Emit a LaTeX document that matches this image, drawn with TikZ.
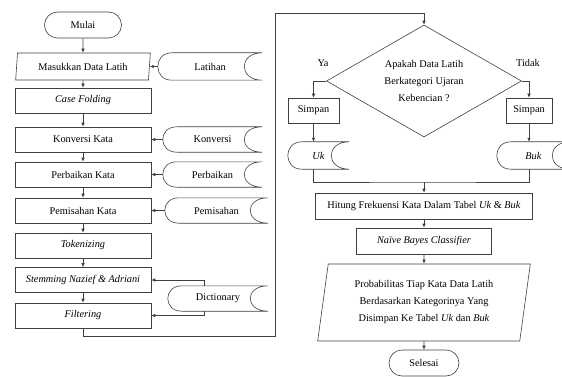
\documentclass[tikz,border=0pt]{standalone}
\usepackage{fontspec}
\setmainfont{Liberation Serif}
\usetikzlibrary{
  positioning,
  arrows.meta,
  shapes.geometric,
  shapes.misc
}
\definecolor{fcLine}{HTML}{404040}

\begin{document}
\begin{tikzpicture}[
  x=1pt, y=-1pt,
  every node/.style={font=\fontsize{10.3}{17}\selectfont, align=center, inner sep=0pt},
  link/.style={draw=fcLine, line width=0.6pt},
  proc/.style={
    rectangle, link,
    minimum width=136pt, minimum height=25pt
  },
  io/.style={
    trapezium, trapezium left angle=80, trapezium right angle=100,
    trapezium stretches=true,
    link, minimum width=136pt, minimum height=27pt
  },
  term/.style={
    rounded rectangle, link,
    minimum width=77pt, minimum height=26pt
  },
  decision/.style={
    diamond, link, aspect=1.74,
    minimum width=195pt, minimum height=112pt
  },
  datastore/.style={rectangle, minimum height=25pt},
  arrow/.style={link, -{Latex[length=4pt, width=3.5pt]}}
]
 \useasboundingbox (0,0) rectangle (562,377);

 % Preprocessing column
 \node[term] (mulai) at (83,25) {Mulai};
 \node[io] (masukkan) at (83,66.5) {Masukkan Data Latih};
 \node[proc] (casefold) at (83,100.5) {\textit{Case Folding}};
 \node[proc] (konversi) at (83,139.5) {Konversi Kata};
 \node[proc] (perbaikan) at (83,174.5) {Perbaikan Kata};
 \node[proc] (pemisahan) at (83,210.5) {Pemisahan Kata};
 \node[proc] (tokenizing) at (83,245.5) {\textit{Tokenizing}};
 \node[proc] (stemming) at (83,280) {\textit{Stemming Nazief \& Adriani}};
 \node[proc] (filtering) at (83,315.5) {\textit{Filtering}};

 \foreach \a/\b in {mulai/masukkan, masukkan/casefold, casefold/konversi,
             konversi/perbaikan, perbaikan/pemisahan, pemisahan/tokenizing,
             tokenizing/stemming, stemming/filtering} {
  \draw[arrow] (\a) -- (\b);
 }

 % Stored data
 \node[datastore, minimum width=104pt, minimum height=27pt] (sLatihan) at (210,66.5) {Latihan};
 \node[datastore, minimum width=99pt] (sKonversi) at (212.5,139.5) {Konversi};
 \node[datastore, minimum width=99pt] (sPerbaikan) at (212.5,174.5) {Perbaikan};
 \node[datastore, minimum width=103pt] (sPemisahan) at (216.5,210.5) {Pemisahan};
 \node[datastore, minimum width=100pt] (sDictionary) at (218,298.5) {Dictionary};

 \foreach \s/\p in {sLatihan/masukkan, sKonversi/konversi,
             sPerbaikan/perbaikan, sPemisahan/pemisahan} {
  \draw[arrow] (\s.west) -- (\p.east);
 }
 \draw[arrow] ([xshift=-14pt]sDictionary.north) |- (stemming.east);
 \draw[arrow] ([xshift=-14pt]sDictionary.south) |- (filtering.east);

 % Classification column
 \node[decision] (kategori) at (424,81)
  {Apakah Data Latih\\Berkategori Ujaran\\Kebencian ?};
 \node (ya) at (323,63) {Ya};
 \node (tidak) at (528,63) {Tidak};
 \node[proc, minimum width=51pt] (simpanUk) at (313.5,110.5) {Simpan};
 \node[proc, minimum width=46pt] (simpanBuk) at (529,110.5) {Simpan};
 \node[datastore, minimum width=61pt, minimum height=27pt] (sUk) at (318.5,155.5) {\textit{Uk}};
 \node[datastore, minimum width=73pt, minimum height=27pt] (sBuk) at (533.5,155.5) {\textit{Buk}};
 \node[proc, minimum width=217pt, minimum height=26pt] (hitung) at (424,206)
  {Hitung Frekuensi Kata Dalam Tabel \textit{Uk} \& \textit{Buk}};
 \node[proc, minimum width=135pt, minimum height=26pt] (naive) at (424,241)
  {\textit{Naïve Bayes Classifier}};
 \node[io, minimum width=213pt, minimum height=77pt] (proba) at (424,302.5)
  {Probabilitas Tiap Kata Data Latih\\Berdasarkan Kategorinya Yang\\Disimpan Ke Tabel \textit{Uk} dan \textit{Buk}};
 \node[term, minimum width=70pt] (selesai) at (424,363) {Selesai};

 % Outline of the stored data shapes
 \foreach \s in {sLatihan, sKonversi, sPerbaikan, sPemisahan, sDictionary, sUk, sBuk} {
  \draw[link] ([xshift=14pt]\s.north west) -- (\s.north east)
   .. controls +(-24pt,0) and +(-24pt,0) .. (\s.south east)
   -- ([xshift=14pt]\s.south west)
   .. controls +(-18.7pt,0) and +(-18.7pt,0) .. ([xshift=14pt]\s.north west);
 }

 % Loop to the decision
 \coordinate (loopBottom) at (275,336);
 \coordinate (loopTop) at (275,13);
 \draw[arrow] (filtering.south) |- (loopBottom) -- (loopTop) -| (kategori.north);

 \draw[arrow] (kategori.west) -| (simpanUk.north);
 \draw[arrow] (kategori.east) -| (simpanBuk.north);
 \draw[arrow] (simpanUk) -- (simpanUk |- sUk.north);
 \draw[arrow] (simpanBuk) -- (simpanBuk |- sBuk.north);

 \coordinate (merge) at (424,182);
 \draw[link] (simpanUk |- sUk.south) |- (merge) -| (simpanBuk |- sBuk.south);
 \draw[arrow] (merge) -- (hitung);
 \draw[arrow] (hitung) -- (naive);
 \draw[arrow] (naive) -- (proba);
 \draw[arrow] (proba) -- (selesai);
\end{tikzpicture}
\end{document}
